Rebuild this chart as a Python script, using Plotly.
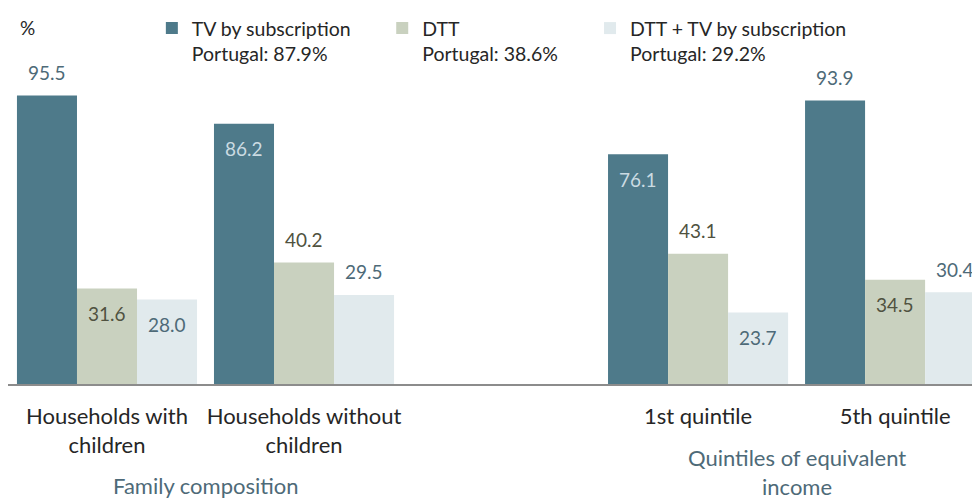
import plotly.graph_objects as go

# ---- data ----
categories = ["Households with<br>children", "Households without<br>children",
              "1st quintile", "5th quintile"]
group_index = [0, 1, 3, 4]
series_names = ["TV by subscription", "DTT", "DTT + TV by subscription"]
portugal = [87.9, 38.6, 29.2]
tv_subscription = [95.5, 86.2, 76.1, 93.9]
dtt = [31.6, 40.2, 43.1, 34.5]
dtt_and_tv = [28.0, 29.5, 23.7, 30.4]
group_titles = ["Family composition", "Quintiles of equivalent<br>income"]
group_title_pos = [0.5, 3.5]

# ---- styles ----
FONT = "Lato"
colors = ["#4e7a8a", "#c9d1bf", "#e1eaed"]
label_out_colors = ["#4e6a78", "#50523f", "#4e6a78"]
label_in_colors = ["#cbdbe2", "#50523f", "#4e6a78"]
# True = label above the bar, False = inside near top
label_outside = [
    [True, False, False, True],
    [False, True, True, False],
    [False, True, False, True],
]
legend_x = [0.148, 0.385, 0.5988]
group_title_y = [-0.335, -0.29]
values = [tv_subscription, dtt, dtt_and_tv]
BARGAP = 0.086
bar_w = (1 - BARGAP) / 3

fig = go.Figure()
for i, (name, vals) in enumerate(zip(series_names, values)):
    lg = "legend" if i == 0 else f"legend{i+1}"
    fig.add_trace(go.Bar(
        x=group_index, y=vals,
        name=f"{name}<br>Portugal: {portugal[i]}%",
        marker=dict(color=colors[i], line=dict(width=0)),
        legend=lg, hoverinfo="skip",
    ))
    for j, v in enumerate(vals):
        out = label_outside[i][j]
        fig.add_annotation(
            x=group_index[j] + (i - 1) * bar_w, y=v, xref="x", yref="y",
            text=f"{v:.1f}", showarrow=False, yanchor="middle",
            yshift=23 if out else -25,
            font=dict(family=FONT, size=19,
                      color=label_out_colors[i] if out else label_in_colors[i]),
        )

for t, p, gy in zip(group_titles, group_title_pos, group_title_y):
    fig.add_annotation(x=p, y=gy, xref="x", yref="paper", text=t,
                       showarrow=False, yanchor="middle", xanchor="center",
                       font=dict(family=FONT, size=22, color="#4e6a78"))

fig.add_annotation(x=0.02, y=1.179, xref="paper", yref="paper", text="%",
                   showarrow=False, xanchor="center", yanchor="middle",
                   font=dict(family=FONT, size=19, color="#262626"))

legend_common = dict(orientation="v", yanchor="top", xanchor="left", y=1.242,
                     bgcolor="rgba(0,0,0,0)", valign="top",
                     font=dict(family=FONT, size=19.5, color="#262626"),
                     itemwidth=30)
fig.update_layout(
    width=972, height=492,
    margin=dict(l=0, r=0, t=74, b=116, autoexpand=False),
    paper_bgcolor="white", plot_bgcolor="white",
    barmode="group", bargap=BARGAP, bargroupgap=0,
    showlegend=True,
    legend=dict(x=legend_x[0], **legend_common),
    legend2=dict(x=legend_x[1], **legend_common),
    legend3=dict(x=legend_x[2], **legend_common),
    xaxis=dict(range=[-0.5025, 4.431], tickvals=group_index, ticktext=categories,
               showline=True, linecolor="#8c8c8c", linewidth=2, ticks="",
               showgrid=False, zeroline=False, ticklabelstandoff=12,
               tickfont=dict(family=FONT, size=22, color="#262626")),
    yaxis=dict(range=[0, 100], visible=False, showgrid=False, zeroline=False),
    font=dict(family=FONT),
)

fig.write_html("out.html")
